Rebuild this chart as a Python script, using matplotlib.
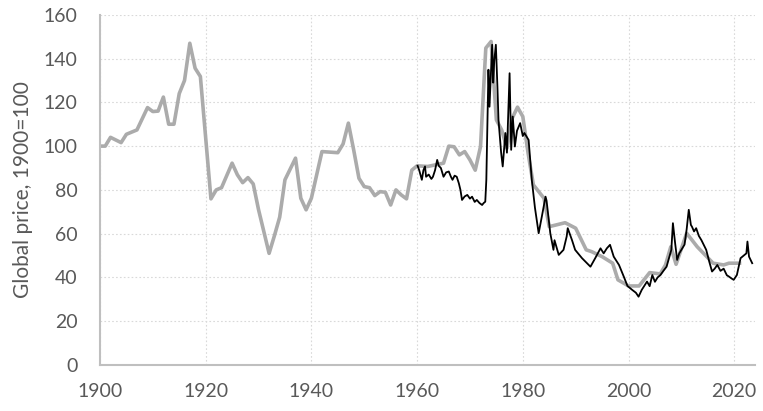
import matplotlib
matplotlib.use("Agg")
import matplotlib.pyplot as plt

plt.rcParams['font.family'] = ['Lato', 'DejaVu Sans']

# Annual series (grey), global price index 1900=100
grey_years = [1900, 1901, 1902, 1904, 1905, 1907, 1909, 1910, 1911, 1912, 1913, 1914,
              1915, 1916, 1917, 1918, 1919, 1921, 1922, 1923, 1925, 1926, 1927, 1928,
              1929, 1930, 1931, 1932, 1933, 1934, 1935, 1937, 1938, 1939, 1940, 1942,
              1945, 1946, 1947, 1948, 1949, 1950, 1951, 1952, 1953, 1954, 1955, 1956,
              1957, 1958, 1959, 1960, 1962, 1965, 1966, 1967, 1968, 1969, 1970, 1971,
              1972, 1973, 1974, 1975, 1976, 1977, 1978, 1979, 1980, 1981, 1982, 1984,
              1985, 1988, 1990, 1992, 1993, 1995, 1997, 1998, 2000, 2002, 2004, 2006,
              2007, 2008, 2009, 2011, 2013, 2016, 2018, 2019, 2021]
grey_values = [100, 100, 104, 101.6, 105.4, 107.4, 117.6, 115.8, 116, 122.4, 110, 110,
               124, 130, 147, 135.6, 131.8, 75.9, 80, 81, 92.2, 86.9, 83.3, 85.6,
               82.7, 71, 61, 51, 59, 67.5, 84.6, 94.5, 76.2, 70.9, 76.2, 97.5,
               97, 101, 110.5, 98.3, 85.3, 81.5, 81, 77.4, 79.2, 78.9, 73.1, 80,
               77.7, 75.9, 89, 91, 90.7, 92.2, 100, 99.7, 96, 97.5, 93.7, 89,
               99.8, 144.8, 147.8, 112, 107.4, 99, 112.8, 117.8, 113.5, 96.8, 82.3, 76.2,
               63.2, 65, 62.5, 52.6, 51.8, 49.5, 46.5, 38.9, 36.1, 36.1, 42.2, 41.6,
               45.7, 54, 46, 60.2, 54, 46.5, 45.7, 46.5, 46.5]

# Monthly series (black)
black_years = [1960.1, 1960.4, 1960.9, 1961.2, 1961.5, 1961.7, 1962.2, 1962.7, 1963.0, 1963.4,
               1963.8, 1964.1, 1964.5, 1965.0, 1965.5, 1966.0, 1966.4, 1966.7, 1967.1, 1967.5,
               1967.9, 1968.2, 1968.5, 1969.0, 1969.5, 1970.0, 1970.4, 1970.9, 1971.3, 1971.8,
               1972.3, 1972.6, 1972.9, 1973.1, 1973.5, 1973.7, 1974.2, 1974.4, 1974.6, 1974.9,
               1975.2, 1975.4, 1975.9, 1976.2, 1976.7, 1977.0, 1977.5, 1977.8, 1978.1, 1978.5,
               1978.9, 1979.5, 1980.0, 1980.3, 1981.1, 1981.7, 1982.3, 1983.0, 1983.6, 1984.3,
               1984.5, 1985.2, 1985.8, 1986.0, 1986.8, 1987.7, 1988.3, 1988.5, 1989.3, 1989.9,
               1991.2, 1992.8, 1993.7, 1994.7, 1995.3, 1995.9, 1996.5, 1997.2, 1998.2, 1999.1,
               1999.8, 2000.7, 2001.4, 2001.9, 2002.5, 2003.5, 2004.0, 2004.5, 2005.0, 2005.5,
               2006.0, 2006.6, 2007.2, 2008.1, 2008.4, 2008.8, 2009.2, 2009.6, 2010.0, 2010.6,
               2011.0, 2011.4, 2011.8, 2012.0, 2012.4, 2012.8, 2013.3, 2013.8, 2014.7, 2015.3,
               2015.8, 2016.3, 2016.8, 2017.4, 2018.0, 2018.6, 2019.0, 2019.5, 2019.9, 2020.5,
               2021.2, 2021.8, 2022.3, 2022.5, 2022.8, 2023.4]
black_values = [91, 89, 84.6, 89, 90.7, 86, 87, 85, 86, 89,
                93.7, 91, 90, 86, 88, 88.4, 86, 84.6, 86.5, 86,
                83, 80, 75.4, 77, 77.7, 76, 76.9, 74.5, 75.4, 74,
                73.1, 74, 74.6, 84.6, 134.9, 118, 146.3, 129, 139, 146.3,
                127, 112, 97, 90.7, 106, 97, 133.3, 98.3, 113.5, 99.8,
                107, 110.5, 104.6, 106, 102.8, 84.6, 71.8, 60.2, 67.8, 76.9,
                75, 60.2, 52.6, 57, 50.3, 52.6, 58.7, 62.5, 57.1, 52.6,
                48.8, 44.9, 48.8, 53.3, 51, 53.3, 54.9, 49.5, 45.7, 40.4,
                36.1, 34.3, 33, 31.2, 34.3, 38.1, 36, 41.1, 38, 40,
                41, 43, 44.9, 52.6, 64.8, 56, 48, 51, 52.6, 55,
                62, 70.9, 64, 63.2, 61, 62.5, 59, 57, 52.6, 47,
                42.7, 44, 45.7, 43, 44, 41, 40.4, 39.5, 38.9, 41.1,
                48.8, 50, 51, 56.4, 49.5, 46.5]

y_ticks = [0, 20, 40, 60, 80, 100, 120, 140, 160]
x_ticks = [1900, 1920, 1940, 1960, 1980, 2000, 2020]

fig = plt.figure(figsize=(7.63, 4.11), dpi=100)
ax = fig.add_axes([0.131, 0.112, 0.859, 0.852])

ax.plot(grey_years, grey_values, color='#ababab', lw=2.6, solid_joinstyle='round', zorder=2)
ax.plot(black_years, black_values, color='black', lw=1.3, zorder=3)

ax.set_xlim(1900, 2024)
ax.set_ylim(0, 160)
ax.set_xticks(x_ticks)
ax.set_yticks(y_ticks)
ax.grid(True, color='#d9d9d9', lw=0.8, linestyle=(0, (1.5, 2)))
ax.set_axisbelow(True)

for s in ['top', 'right']:
    ax.spines[s].set_visible(False)
for s in ['left', 'bottom']:
    ax.spines[s].set_color('#bfbfbf')
    ax.spines[s].set_linewidth(1.5)

ax.tick_params(length=0, labelsize=14, labelcolor='#595959')
ax.tick_params(axis='y', pad=16)
ax.tick_params(axis='x', pad=13)
ax.set_ylabel("Global price, 1900=100", fontsize=15, color='#595959', labelpad=8)

fig.savefig("out.png", dpi=100)
